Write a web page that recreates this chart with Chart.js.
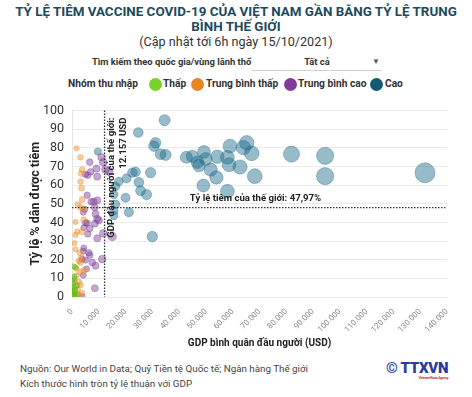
<!DOCTYPE html>
<html>
<head>
<meta charset="utf-8">
<script src="https://cdn.jsdelivr.net/npm/chart.js@4.4.1/dist/chart.umd.min.js"></script>
<style>
  html, body { margin:0; padding:0; background:#fff; }
  body { width:472px; height:397px; position:relative; overflow:hidden; font-family: Roboto, "Noto Sans", sans-serif; color:#333; }
  .abs { position:absolute; white-space:nowrap; }
  #title { left:0; top:4px; width:472px; text-align:center; font-weight:700; font-size:13.4px; line-height:15px; color:#1d4a5c; }
  #sub { left:0; top:34px; width:472px; text-align:center; font-size:12.6px; line-height:15px; color:#333; }
  #search { left:92px; top:56px; font-size:9.4px; font-weight:700; line-height:12px; color:#333; }
  #sel { left:292px; top:56px; width:50px; text-align:center; font-size:9.4px; font-weight:700; line-height:12px; color:#333; }
  #arrow { left:372px; top:56px; font-size:8px; line-height:12px; color:#555; }
  #uline { left:252px; top:70px; width:130px; height:1px; background:#d0d0d0; }
  .lg { top:78px; font-size:10.2px; font-weight:700; line-height:12px; color:#333; }
  .dot { position:absolute; top:77.5px; width:13px; height:13px; border-radius:50%; }
  #foot { left:20px; top:362px; font-size:9.8px; line-height:14.5px; color:#444; }
  #logo { left:386px; top:360px; font-size:15px; font-weight:900; color:#2a3c9c; line-height:16px; letter-spacing:-0.3px; }
  #logo small { display:block; font-size:3.5px; color:#c33; line-height:4px; text-align:right; font-weight:700; }
  #wrap { position:absolute; left:0; top:95px; width:472px; height:260px; }
</style>
</head>
<body>
<div id="title" class="abs">TỶ LỆ TIÊM VACCINE COVID-19 CỦA VIỆT NAM GẦN BẰNG TỶ LỆ TRUNG<br>BÌNH THẾ GIỚI</div>
<div id="sub" class="abs">(Cập nhật tới 6h ngày 15/10/2021)</div>
<div id="search" class="abs">Tìm kiếm theo quốc gia/vùng lãnh thổ</div>
<div id="sel" class="abs">Tất cả</div>
<div id="arrow" class="abs">▼</div>
<div id="uline" class="abs"></div>

<div class="abs lg" style="left:68px">Nhóm thu nhập</div>
<div class="dot" style="left:148.5px;background:#78d22a"></div>
<div class="abs lg" style="left:163px">Thấp</div>
<div class="dot" style="left:190.5px;background:#e68723"></div>
<div class="abs lg" style="left:206px">Trung bình thấp</div>
<div class="dot" style="left:283.5px;background:#823c96"></div>
<div class="abs lg" style="left:298px">Trung bình cao</div>
<div class="dot" style="left:369.5px;background:#145a73"></div>
<div class="abs lg" style="left:385px">Cao</div>

<div id="wrap"><canvas id="c" width="472" height="260"></canvas></div>

<div id="foot" class="abs">Nguồn: Our World in Data; Quỹ Tiền tệ Quốc tế; Ngân hàng Thế giới<br>Kích thước hình tròn tỷ lệ thuận với GDP</div>
<div id="logo" class="abs">© TTXVN<small>Vietnam News Agency</small></div>

<script>
// ---- DATA: [GDP per capita (USD), % vaccinated] ----
const lowIncome = [
  [670,16.4],[1310,15.9],[930,9.9],[450,7.3],[75,4.7],[450,2.9],[930,2.1],[75,1.2],
  [1310,0.3],[670,5.5],[190,9.0],[670,1.2],[1680,1.2],[300,3.5],[1100,4.0],[500,0.5],
  [1500,6.0],[800,11.0]
];
const lowerMiddleIncome = [
  [1680,79.7],[3180,74.9],[3810,68.3],[3440,66.2],[3180,61.9],[3550,58.4],[3810,52.3],
  [2170,49.7],[3180,48.0],[4190,47.1],[4410,41.4],[1310,40.2],[1940,35.0],[1310,33.3],
  [3810,35.0],[930,28.9],[1310,25.5],[2920,23.7],[3550,21.1],[2540,19.4],[3180,18.5],
  [1680,15.1],[3180,13.3],[4410,14.2],[2540,8.1],[1940,6.4],[3180,6.4],[1310,2.9],
  [2540,1.2],[1680,11.6],[820,1.2],[2200,4.0],[3700,2.0],[1000,8.0]
];
const upperMiddleIncome = [
  [6650,72.3],[6920,67.1],[5050,65.7],[5910,65.3],[9160,68.8],[9420,64.5],[11030,74.9],
  [11660,72.3],[12520,68.4],[13760,67.4],[5680,54.6],[7180,51.1],[8150,51.1],[9420,51.8],
  [4190,45.4],[4790,47.1],[8520,48.0],[8790,44.5],[9420,41.9],[10020,41.1],[8520,39.3],
  [5050,39.7],[5680,39.7],[6650,36.7],[4410,37.2],[5910,33.8],[9420,31.5],[11660,34.1],
  [15030,32.4],[4410,26.3],[4190,24.6],[6280,23.7],[6650,22.4],[3810,20.3],[5050,19.8],
  [7550,18.5],[8790,16.8],[11290,20.3],[4190,11.6],[8520,4.7],[3810,0.3],[5420,15.1]
];
const highIncome = [
  [9650,78.0],[24750,88.2],[34580,94.8],[31200,82.7],[30580,80.9],[33080,76.6],[34950,76.2],
  [22500,66.7],[23740,67.1],[29350,66.7],[17490,61.9],[20370,63.6],[24970,61.5],[25610,57.0],
  [27850,54.9],[15630,54.9],[16260,59.3],[20000,53.2],[16260,49.7],[15630,46.3],[15630,43.7],
  [21230,45.4],[29980,32.4],[42690,74.9],[44930,75.4],[46800,72.3],[49270,77.8],[49910,74.0],
  [47400,70.5],[54280,75.2],[51780,68.3],[53910,64.1],[49050,59.8],[58020,56.7],[58990,80.9],
  [58020,74.9],[58620,70.9],[62730,69.7],[65230,82.7],[64000,80.1],[67100,77.0],[68220,64.8],
  [81940,76.6],[94500,75.7],[94500,64.8],[131780,66.6]
];
const worldGdpPerCapita = 12157;
const worldVaccinationRate = 47.97;
const xTickMax = 140000;
const yTickMax = 100;

const toPoints = arr => arr.map(([x, y]) => ({x, y}));
// circle area proportional to GDP per capita
const radiusFor = ctx => Math.sqrt(6.25 + 0.00071 * ctx.raw.x);

const fmt = v => String(v).replace(/\B(?=(\d{3})+(?!\d))/g, '.');

const refLines = {
  id: 'refLines',
  afterDatasetsDraw(chart) {
    const {ctx, chartArea: a, scales: {x, y}} = chart;
    const vx = x.getPixelForValue(worldGdpPerCapita);
    const hy = y.getPixelForValue(worldVaccinationRate);
    ctx.save();
    ctx.strokeStyle = '#333';
    ctx.lineWidth = 1.3;
    ctx.setLineDash([1.5, 1.5]);
    ctx.beginPath();
    ctx.moveTo(vx, a.top); ctx.lineTo(vx, a.bottom);
    ctx.moveTo(a.left, hy); ctx.lineTo(a.right, hy);
    ctx.stroke();
    ctx.setLineDash([]);
    ctx.fillStyle = '#222';
    ctx.font = 'bold 9.6px Roboto, "Noto Sans", sans-serif';
    ctx.textBaseline = 'middle';
    ctx.textAlign = 'left';
    ctx.fillText('Tỷ lệ tiêm của thế giới: ' + String(worldVaccinationRate).replace('.', ',') + '%', x.getPixelForValue(44000), hy - 9);
    ctx.translate(vx, a.top + 7);
    ctx.rotate(-Math.PI / 2);
    ctx.textAlign = 'right';
    ctx.fillText('GDP đầu người của thế giới:', 0, 7);
    ctx.fillText(fmt(worldGdpPerCapita) + ' USD', 0, 19.5);
    ctx.restore();
  }
};

new Chart(document.getElementById('c'), {
  type: 'scatter',
  data: {
    datasets: [
      { label: 'Thấp', data: toPoints(lowIncome), backgroundColor: 'rgba(110,200,40,0.55)', borderColor: 'rgba(95,175,30,0.45)' },
      { label: 'Trung bình thấp', data: toPoints(lowerMiddleIncome), backgroundColor: 'rgba(235,140,40,0.45)', borderColor: 'rgba(235,140,40,0.35)' },
      { label: 'Trung bình cao', data: toPoints(upperMiddleIncome), backgroundColor: 'rgba(125,60,150,0.45)', borderColor: 'rgba(125,60,150,0.35)' },
      { label: 'Cao', data: toPoints(highIncome), backgroundColor: 'rgba(25,105,135,0.45)', borderColor: 'rgba(25,105,135,0.35)' }
    ]
  },
  options: {
    responsive: false,
    animation: false,
    devicePixelRatio: 1,
    layout: { padding: { top: 10, right: 25, bottom: 0, left: 0 } },
    elements: { point: { radius: radiusFor, borderWidth: 1, hoverRadius: radiusFor } },
    plugins: { legend: { display: false }, tooltip: { enabled: false } },
    scales: {
      x: {
        type: 'linear', min: 0, max: xTickMax,
        afterFit: s => { s.height = 58; },
        ticks: { stepSize: 10000, minRotation: 45, maxRotation: 45, color: '#888', font: { size: 8, family: 'Roboto' }, padding: 2, callback: v => fmt(v) },
        grid: { display: false },
        border: { display: false },
        title: { display: true, text: 'GDP bình quân đầu người (USD)', color: '#222', font: { size: 10, weight: 'bold', family: 'Roboto' }, padding: { bottom: 6, top: 0 } }
      },
      y: {
        min: 0, max: yTickMax,
        afterFit: s => { s.width = 72; },
        ticks: { stepSize: 10, color: '#333', font: { size: 12.5, family: 'Roboto' }, padding: 8 },
        grid: { color: '#ebebeb', drawTicks: false },
        border: { color: '#e4e4e4' },
        title: { display: true, text: 'Tỷ lệ % dân được tiêm', color: '#222', font: { size: 12.5, weight: 'bold', family: 'Roboto' }, padding: { top: 28, bottom: 0 } }
      }
    }
  },
  plugins: [refLines]
});
</script>
</body>
</html>
